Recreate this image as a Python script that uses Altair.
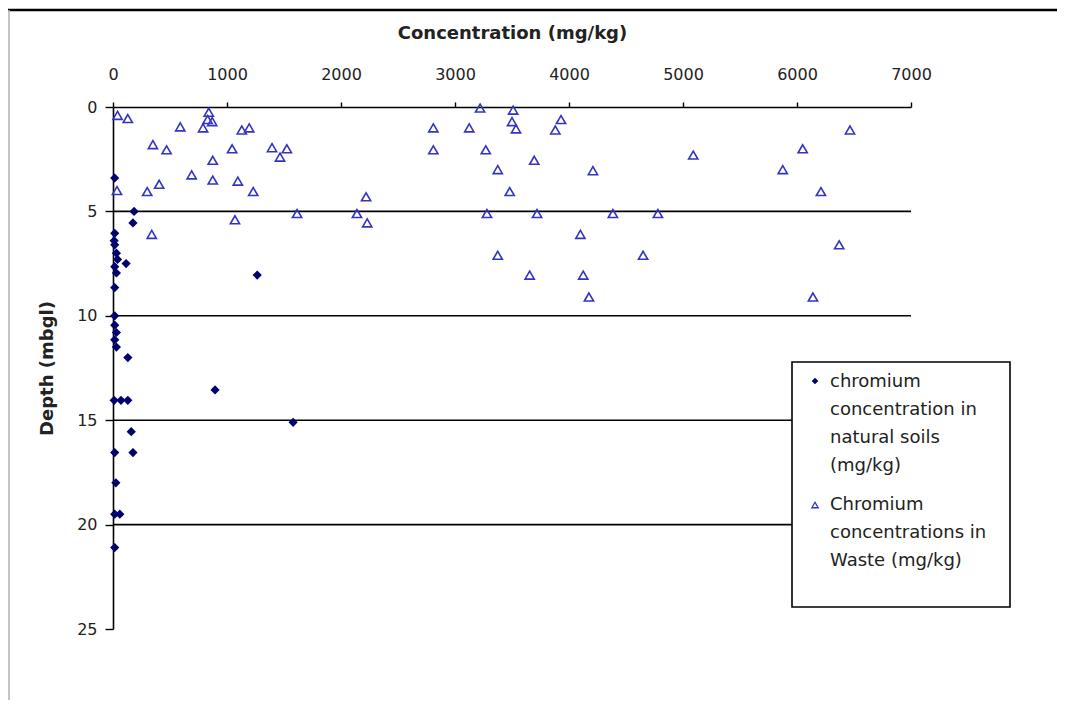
import altair as alt
import pandas as pd

# ---- data ----
waste_conc = [40, 130, 590, 840, 830, 790, 870, 1130, 1195, 350, 470, 1045, 1395, 1465, 1525,
              875, 690, 875, 1095, 1230, 405, 300, 35, 1070, 340, 1615, 2810, 3125, 3220, 2810,
              3270, 3375, 3480, 2220, 2140, 2230, 3280, 3510, 3500, 3535, 3930, 3880, 3695, 4210,
              3720, 4385, 4780, 5090, 4100, 3375, 3655, 4125, 4175, 4650, 6465, 6050, 5875, 6210,
              6370, 6140]
waste_depth = [0.4, 0.55, 0.95, 0.25, 0.6, 1.0, 0.7, 1.1, 1.0, 1.8, 2.05, 2.0, 1.95, 2.4, 2.0,
               2.55, 3.25, 3.5, 3.55, 4.05, 3.7, 4.05, 4.0, 5.4, 6.1, 5.1, 1.0, 1.0, 0.05, 2.05,
               2.05, 3.0, 4.05, 4.3, 5.1, 5.55, 5.1, 0.15, 0.7, 1.05, 0.6, 1.1, 2.55, 3.05,
               5.1, 5.1, 5.1, 2.3, 6.1, 7.1, 8.05, 8.05, 9.1, 7.1, 1.1, 2.0, 3.0, 4.05,
               6.6, 9.1]

soil_conc = [15, 185, 175, 15, 10, 15, 30, 40, 115, 15, 30, 15, 1265, 15, 15, 30, 15, 30, 130,
             895, 10, 70, 130, 1580, 160, 15, 175, 25, 15, 60, 15]
soil_depth = [3.4, 5.0, 5.55, 6.05, 6.4, 6.6, 7.0, 7.3, 7.5, 7.65, 7.95, 8.65, 8.05, 10.0, 10.45,
              10.8, 11.15, 11.5, 12.0, 13.55, 14.05, 14.05, 14.05, 15.1, 15.55, 16.55, 16.55,
              18.0, 19.5, 19.5, 21.1]

grid_depths = [5, 10, 15, 20]
x_ticks = [0, 1000, 2000, 3000, 4000, 5000, 6000, 7000]
y_ticks = [0, 5, 10, 15, 20, 25]

legend_soil = ["chromium", "concentration in", "natural soils", "(mg/kg)"]
legend_waste = ["Chromium", "concentrations in", "Waste (mg/kg)"]

W, H = 798, 522
FONT = "DejaVu Sans"
one = pd.DataFrame({"k": [0]})

xscale = alt.Scale(domain=[0, 7000], nice=False)
yscale = alt.Scale(domain=[0, 25], reverse=True, nice=False)

xaxis = alt.Axis(orient="top", values=x_ticks, format="d", title="Concentration (mg/kg)",
                 grid=False, tickSize=5, labelPadding=20, titlePadding=24, labelFlush=False)
yaxis = alt.Axis(values=y_ticks, format="d", title="Depth (mbgl)", grid=False,
                 tickSize=8, labelPadding=8, titlePadding=20)

grid = alt.Chart(pd.DataFrame({"depth": grid_depths})).mark_rule(
    color="black", strokeWidth=1.6
).encode(y=alt.Y("depth:Q", scale=yscale))

waste = alt.Chart(pd.DataFrame({"conc": waste_conc, "depth": waste_depth})).mark_point(
    shape="triangle-up", size=85, filled=False, color="#3434c0", strokeWidth=1.6, opacity=1
).encode(
    x=alt.X("conc:Q", scale=xscale, axis=xaxis),
    y=alt.Y("depth:Q", scale=yscale, axis=yaxis),
)

soil = alt.Chart(pd.DataFrame({"conc": soil_conc, "depth": soil_depth})).mark_point(
    shape="diamond", size=85, filled=True, color="#00006e", opacity=1
).encode(
    x=alt.X("conc:Q", scale=xscale),
    y=alt.Y("depth:Q", scale=yscale),
)

# legend (drawn by hand to match the boxed, wrapped Excel legend)
lx0, lx1, ly0, ly1 = 679, 897, 255, 500
box = alt.Chart(one).mark_rect(fill="white", stroke="black", strokeWidth=1.6).encode(
    x=alt.value(lx0), x2=alt.value(lx1), y=alt.value(ly0), y2=alt.value(ly1)
)
sym_soil = alt.Chart(one).mark_point(shape="diamond", size=45, filled=True, color="#00006e",
                                     opacity=1).encode(x=alt.value(702), y=alt.value(274))
sym_waste = alt.Chart(one).mark_point(shape="triangle-up", size=40, filled=False, color="#3434c0",
                                      strokeWidth=1.3, opacity=1).encode(x=alt.value(702), y=alt.value(398))
txt_soil = alt.Chart(one).mark_text(
    text=legend_soil, align="left", baseline="alphabetic", font=FONT, fontSize=18,
    lineHeight=28, color="#222222"
).encode(x=alt.value(717), y=alt.value(280))
txt_waste = alt.Chart(one).mark_text(
    text=legend_waste, align="left", baseline="alphabetic", font=FONT, fontSize=18,
    lineHeight=28, color="#222222"
).encode(x=alt.value(717), y=alt.value(403))

# outer frame of the picture
top_line = alt.Chart(one).mark_rule(color="black", strokeWidth=2.5).encode(
    x=alt.value(-105), x2=alt.value(960), y=alt.value(-97)
)
left_line = alt.Chart(one).mark_rule(color="#b0b0b0", strokeWidth=1.5).encode(
    x=alt.value(-104), y=alt.value(-97), y2=alt.value(593)
)

chart = alt.layer(
    grid, waste, soil, box, sym_soil, sym_waste, txt_soil, txt_waste, top_line, left_line
).properties(
    width=W, height=H,
    autosize=alt.AutoSizeParams(type="none"),
    padding={"left": 105, "top": 99, "right": 146, "bottom": 79},
).configure_view(stroke=None).configure_axis(
    domainColor="black", domainWidth=1.6, tickColor="black", tickWidth=1.4,
    labelFont=FONT, labelFontSize=16, labelColor="#222222",
    titleFont=FONT, titleFontSize=18, titleFontWeight="bold", titleColor="#222222",
)

chart.save("out.html", embed_options={"renderer": "svg", "actions": False})
